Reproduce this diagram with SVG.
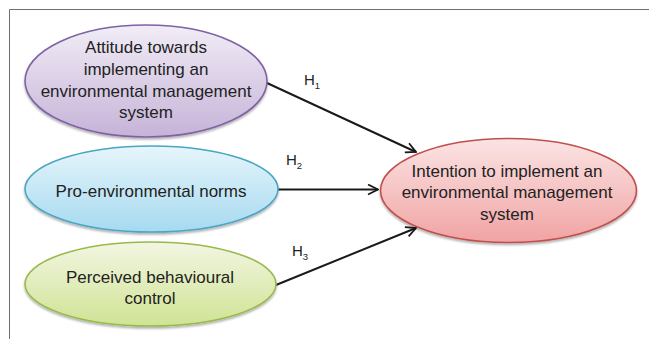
<svg xmlns="http://www.w3.org/2000/svg" width="649" height="339" viewBox="0 0 649 339">
  <defs>
    <linearGradient id="gPurple" x1="0" y1="0" x2="0" y2="1">
      <stop offset="0" stop-color="#f1edf6"/>
      <stop offset="1" stop-color="#c6b3d8"/>
    </linearGradient>
    <linearGradient id="gBlue" x1="0" y1="0" x2="0" y2="1">
      <stop offset="0" stop-color="#e6f5fb"/>
      <stop offset="1" stop-color="#a6daf0"/>
    </linearGradient>
    <linearGradient id="gGreen" x1="0" y1="0" x2="0" y2="1">
      <stop offset="0" stop-color="#f2f6e2"/>
      <stop offset="1" stop-color="#d0e394"/>
    </linearGradient>
    <linearGradient id="gRed" x1="0" y1="0" x2="0" y2="1">
      <stop offset="0" stop-color="#fbe4e4"/>
      <stop offset="1" stop-color="#f1a3a3"/>
    </linearGradient>
    <filter id="shadow" x="-10%" y="-10%" width="120%" height="130%">
      <feDropShadow dx="0" dy="2" stdDeviation="1.2" flood-color="#000" flood-opacity="0.3"/>
    </filter>
    <marker id="arrow" viewBox="0 0 12 12" refX="11" refY="6" markerWidth="12" markerHeight="12" markerUnits="userSpaceOnUse" orient="auto">
      <path d="M1,1 L11,6 L1,11" fill="none" stroke="#1a1a1a" stroke-width="1.8"/>
    </marker>
  </defs>
  <style>
    .frame { stroke: #6e6e6e; stroke-width: 1; fill: none; }
    .node text { font-family: "Liberation Sans", Arial, sans-serif; font-size: 17px; fill: #222; text-anchor: middle; }
    .node ellipse { stroke-width: 1.6; filter: url(#shadow); }
    .conn line { stroke: #1a1a1a; stroke-width: 2; marker-end: url(#arrow); }
    .lbl { font-family: "Liberation Sans", Arial, sans-serif; font-size: 15px; fill: #222; }
    .lbl tspan.sub { font-size: 9.5px; }
  </style>

  <!-- frame -->
  <path class="frame" d="M9.5,339 L9.5,9.5 L649,9.5"/>

  <!-- connectors -->
  <g id="connectors" class="conn">
    <line x1="267" y1="83" x2="416" y2="152"/>
    <line x1="278" y1="189.5" x2="378" y2="189.5"/>
    <line x1="276" y1="285" x2="416" y2="228"/>
    <text class="lbl" x="304" y="85">H<tspan class="sub" dy="4">1</tspan></text>
    <text class="lbl" x="286" y="165">H<tspan class="sub" dy="4">2</tspan></text>
    <text class="lbl" x="292" y="256">H<tspan class="sub" dy="4">3</tspan></text>
  </g>

  <g id="attitude" class="node">
    <ellipse cx="146" cy="81" rx="121" ry="56" fill="url(#gPurple)" stroke="#7f62a3"/>
    <text x="146" y="53">Attitude towards</text>
    <text x="146" y="75">implementing an</text>
    <text x="146" y="97">environmental management</text>
    <text x="146" y="118">system</text>
  </g>

  <g id="norms" class="node">
    <ellipse cx="151.5" cy="189" rx="126.5" ry="43" fill="url(#gBlue)" stroke="#4aa6c4"/>
    <text x="151" y="197">Pro-environmental norms</text>
  </g>

  <g id="control" class="node">
    <ellipse cx="150.5" cy="284" rx="125.5" ry="42" fill="url(#gGreen)" stroke="#98ba4c"/>
    <text x="150" y="283">Perceived behavioural</text>
    <text x="150" y="304">control</text>
  </g>

  <g id="intention" class="node">
    <ellipse cx="508.5" cy="190.5" rx="128" ry="52" fill="url(#gRed)" stroke="#c0504d"/>
    <text x="507" y="177">Intention to implement an</text>
    <text x="507" y="198">environmental management</text>
    <text x="507" y="220">system</text>
  </g>
</svg>
